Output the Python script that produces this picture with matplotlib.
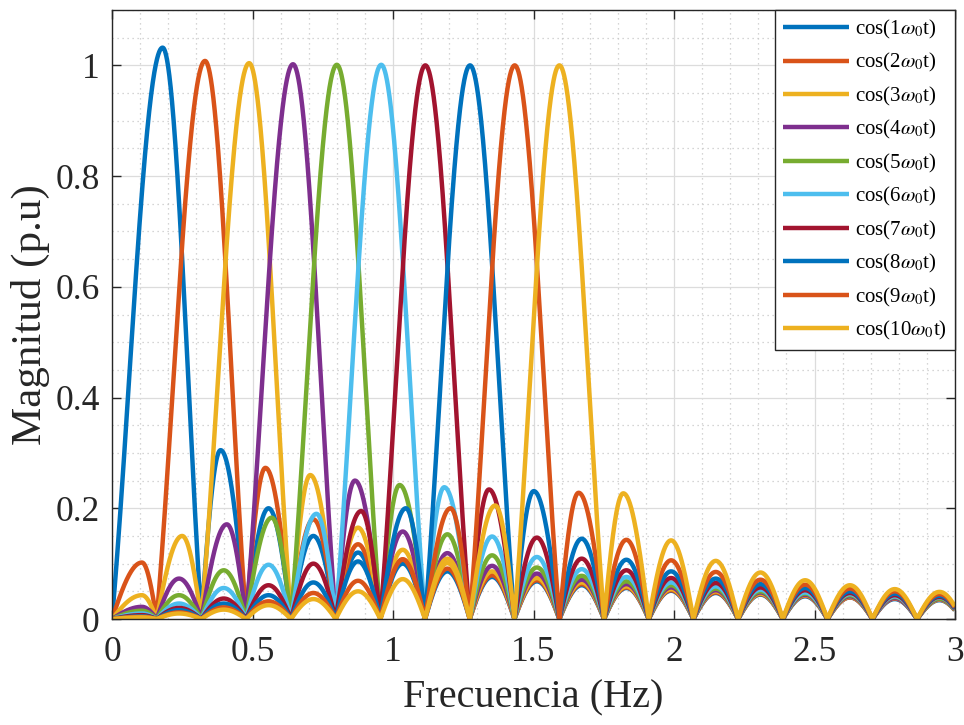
import numpy as np
import matplotlib
matplotlib.use("Agg")
import matplotlib.pyplot as plt
from matplotlib.ticker import MultipleLocator

plt.rcParams['font.family'] = ['Liberation Serif', 'DejaVu Serif']
plt.rcParams['mathtext.fontset'] = 'stix'

# ---- data ----
labels = [f"cos({k}$\\omega_0$t)" for k in range(1, 11)]
colors = ["#0072BD", "#D95319", "#EDB120", "#7E2F8E", "#77AC30",
          "#4DBEEE", "#A2142F", "#0072BD", "#D95319", "#EDB120"]

# frequencies (Hz) where all spectra reach zero (lobe boundaries)
zeros_hz = [0.0, 0.159, 0.318, 0.477, 0.637, 0.796, 0.955, 1.114, 1.273,
            1.432, 1.592, 1.751, 1.910, 2.069, 2.228, 2.387, 2.546, 2.706,
            2.865, 3.024]

# main lobe peaks
main_peak_hz = [0.180, 0.331, 0.488, 0.644, 0.800, 0.958, 1.115, 1.274, 1.433, 1.592]
main_peak_mag = [1.032, 1.008, 1.004, 1.002, 1.001, 1.001, 1.000, 1.000, 1.000, 1.000]

# side lobe peak magnitudes per lobe interval (None = inside main lobe)
side_1 = [None, None, 0.305, 0.20, 0.15, 0.12, 0.10, 0.086, 0.076, 0.068,
          0.061, 0.056, 0.051, 0.047, 0.044, 0.041, 0.039, 0.036, 0.034]
side_2 = [0.102, None, None, 0.273, 0.18, 0.135, 0.108, 0.091, 0.079, 0.070,
          0.063, 0.057, 0.052, 0.048, 0.045, 0.042, 0.039, 0.037, 0.035]
side_3 = [0.043, 0.150, None, None, 0.26, 0.165, 0.125, 0.101, 0.086, 0.074,
          0.066, 0.059, 0.054, 0.050, 0.046, 0.043, 0.040, 0.038, 0.035]
side_4 = [0.022, 0.073, 0.171, None, None, 0.25, 0.158, 0.119, 0.096, 0.082,
          0.071, 0.063, 0.057, 0.052, 0.048, 0.044, 0.041, 0.038, 0.036]
side_5 = [0.015, 0.043, 0.088, 0.183, None, None, 0.242, 0.153, 0.115, 0.093,
          0.078, 0.068, 0.061, 0.055, 0.050, 0.046, 0.043, 0.040, 0.037]
side_6 = [0.010, 0.028, 0.056, 0.098, 0.19, None, None, 0.238, 0.149, 0.112,
          0.090, 0.076, 0.066, 0.059, 0.053, 0.048, 0.045, 0.041, 0.039]
side_7 = [0.007, 0.020, 0.037, 0.061, 0.10, 0.195, None, None, 0.234, 0.147,
          0.109, 0.088, 0.074, 0.065, 0.057, 0.052, 0.047, 0.043, 0.040]
side_8 = [0.005, 0.016, 0.028, 0.043, 0.066, 0.104, 0.20, None, None, 0.231,
          0.145, 0.107, 0.086, 0.073, 0.063, 0.056, 0.050, 0.046, 0.042]
side_9 = [0.004, 0.012, 0.021, 0.032, 0.047, 0.069, 0.107, 0.20, None, None,
          0.228, 0.143, 0.106, 0.085, 0.071, 0.062, 0.055, 0.050, 0.045]
side_10 = [0.003, 0.010, 0.017, 0.025, 0.036, 0.050, 0.072, 0.109, 0.205, None,
           None, 0.227, 0.142, 0.105, 0.084, 0.070, 0.061, 0.054, 0.049]
side_lobes = [side_1, side_2, side_3, side_4, side_5, side_6, side_7, side_8,
              side_9, side_10]

xticks = [0, 0.5, 1, 1.5, 2, 2.5, 3]
xticklabels = ["0", "0.5", "1", "1.5", "2", "2.5", "3"]
yticks = [0, 0.2, 0.4, 0.6, 0.8, 1.0]
yticklabels = ["0", "0.2", "0.4", "0.6", "0.8", "1"]


def arch(f, a, b, p_frac, h):
    """lobe between zeros a and b, peak at fraction p_frac, height h"""
    x = (f - a) / (b - a)
    t = np.where(x < p_frac, 0.5 * x / p_frac, 0.5 + 0.5 * (x - p_frac) / (1 - p_frac))
    return h * np.sin(np.pi * t)


def main_lobe(f, a, b, p, h):
    x = np.where(f < p, (f - p) / (p - a), (f - p) / (b - p))
    return h * np.sinc(x)


def build(idx):
    k = idx + 1
    z = zeros_hz
    f_all, y_all = [], []
    n = 0
    while n < len(z) - 1:
        if side_lobes[idx][n] is None:
            a, b = z[n], z[n + 2]
            f = np.linspace(a, b, 400)
            y = main_lobe(f, a, b, main_peak_hz[idx], main_peak_mag[idx])
            n += 2
        else:
            a, b = z[n], z[n + 1]
            if n == 0:
                pf = 0.67 if k > 1 else 0.5
            elif n == k - 2:
                pf = 0.57
            elif n == k + 1:
                pf = 0.43
            else:
                pf = 0.5
            f = np.linspace(a, b, 200)
            y = arch(f, a, b, pf, side_lobes[idx][n])
            n += 1
        f_all.append(f)
        y_all.append(y)
    f = np.concatenate(f_all)
    y = np.concatenate(y_all)
    m = f <= 3.0
    return f[m], y[m]


fig = plt.figure(figsize=(9.64, 7.25), dpi=100)
ax = fig.add_axes([0.1162, 0.1462, 0.8745, 0.8400])

for i in range(10):
    f, y = build(i)
    ax.plot(f, y, color=colors[i], lw=3.2, label=labels[i], solid_capstyle='butt')

ax.set_xlim(0, 3)
ax.set_ylim(0, 1.1)
ax.set_xticks(xticks)
ax.set_xticklabels(xticklabels)
ax.set_yticks(yticks)
ax.set_yticklabels(yticklabels)
ax.xaxis.set_minor_locator(MultipleLocator(0.1))
ax.yaxis.set_minor_locator(MultipleLocator(0.05))
ax.tick_params(which='major', direction='in', length=6.5, width=1.0, color='#262626',
               labelsize=25.5, top=True, right=True, labelcolor='#262626')
ax.tick_params(axis='x', which='major', pad=12)
ax.tick_params(axis='y', which='major', pad=9)
ax.tick_params(which='minor', length=0, top=True, right=True)
ax.grid(which='major', color='#dcdcdc', lw=0.9)
ax.grid(which='minor', color='#c8c8c8', lw=0.9, ls=(0, (1, 3)))
ax.set_axisbelow(True)
for s in ax.spines.values():
    s.set_color('#262626')
    s.set_linewidth(1.0)

ax.set_xlabel("Frecuencia (Hz)", fontsize=29, color='#262626', labelpad=8)
ax.set_ylabel("Magnitud (p.u)", fontsize=31, color='#262626', labelpad=4)

leg = ax.legend(loc='upper right', bbox_to_anchor=(1.0, 1.0), fontsize=15,
                fancybox=False, framealpha=1, edgecolor='#262626',
                handlelength=3.15, handletextpad=0.3, labelspacing=0.5,
                borderaxespad=0, borderpad=0.38)
leg.get_frame().set_linewidth(1.0)
for line in leg.get_lines():
    line.set_linewidth(3.2)

fig.savefig("out.png", dpi=100)
